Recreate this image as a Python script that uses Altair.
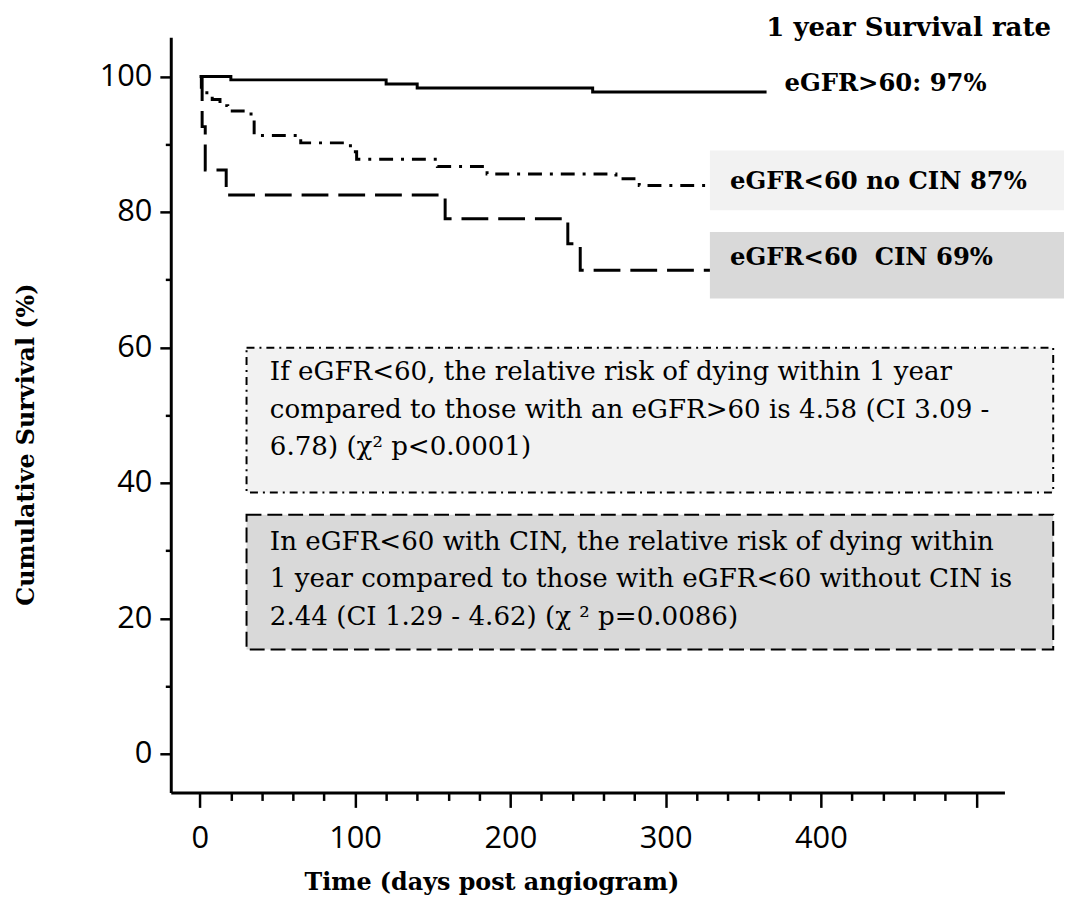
import altair as alt
import pandas as pd

# ---------------- data ----------------
days_gt60 = [0, 20, 120, 140, 253, 365]
surv_gt60 = [100, 99.5, 98.9, 98.3, 97.7, 97.7]

days_nocin = [0, 1, 8, 13, 18, 33, 35, 65, 97, 101, 153, 185, 268, 283, 365]
surv_nocin = [100, 97.6, 96.6, 95.7, 94.9, 93.6, 91.3, 90.2, 88.9, 87.8, 86.7, 85.6, 84.9, 83.9, 83.9]

days_cin = [0, 1.5, 3.5, 17, 158, 237, 245, 365]
surv_cin = [100, 92.6, 86.2, 82.5, 79.0, 75.3, 71.4, 71.4]

x_ticks = list(range(0, 520, 20))
y_ticks = list(range(0, 110, 10))

title_text = "1 year Survival rate"
title_pos = [364.8, 106.05]

label_text = ["eGFR>60: 97%", "eGFR<60 no CIN 87%", "eGFR<60\u00a0 CIN 69%"]
label_x = [376.5, 341.4, 341.4]
label_y = [97.85, 83.35, 72.21]

labbox_group = ["noCIN", "CIN"]
labbox_x1 = [328.5, 328.5]
labbox_x2 = [557.0, 557.0]
labbox_y1 = [89.06, 77.05]
labbox_y2 = [80.27, 67.24]

box1_lines = [
    "If eGFR<60, the relative risk of dying within 1 year",
    "compared to those with an eGFR>60 is 4.58 (CI 3.09 -",
    "6.78) (\u03c7\u00b2 p<0.0001)",
]
box2_lines = [
    "In eGFR<60 with CIN, the relative risk of dying within",
    "1 year compared to those with eGFR<60 without CIN is",
    "2.44 (CI 1.29 - 4.62) (\u03c7 \u00b2 p=0.0086)",
]
box1_rect = [30.1, 549.6, 59.95, 38.57]   # x1, x2, y1, y2 (data units)
box2_rect = [30.1, 549.6, 35.30, 15.42]
box1_text_pos = [45.1, 55.22]
box2_text_pos = [45.1, 30.17]

# ---------------- scales & axes ----------------
X_DOMAIN = [-18.7, 518.2]
Y_DOMAIN = [-5.7, 105.8]
xs = alt.Scale(domain=X_DOMAIN, nice=False, zero=False)
ys = alt.Scale(domain=Y_DOMAIN, nice=False, zero=False)

SERIF = "DejaVu Serif"
SANS = "Open Sans"

x_axis = alt.Axis(
    values=x_ticks,
    labelExpr="(datum.value % 100 === 0 && datum.value < 500) ? datum.label : ''",
    tickSize={"condition": {"test": "datum.value % 100 === 0", "value": 15}, "value": 8},
    tickWidth=2.5, tickColor="black",
    domainWidth=3, domainColor="black",
    labelFont=SANS, labelFontSize=31, labelColor="black",
    labelPadding=16, labelOverlap=False, labelFlush=False, labelBound=False,
    grid=False,
    title="Time (days post angiogram)",
    titleFont=SERIF, titleFontSize=24, titleFontWeight="bold", titleColor="black",
    titleX=323, titleY=98, titleAlign="center", titleBaseline="alphabetic",
)
y_axis = alt.Axis(
    values=y_ticks,
    labelExpr="(datum.value % 20 === 0) ? datum.label : ''",
    tickSize={"condition": {"test": "datum.value % 20 === 0", "value": 11}, "value": 5.5},
    tickWidth=2.5, tickColor="black",
    domainWidth=3, domainColor="black",
    labelFont=SANS, labelFontSize=31, labelColor="black",
    labelPadding=8, labelOverlap=False, labelFlush=False, labelBound=False,
    grid=False,
    title="Cumulative Survival (%)",
    titleFont=SERIF, titleFontSize=24, titleFontWeight="bold", titleColor="black",
    titleAngle=270, titleX=-138.7, titleY=410, titleAlign="center", titleBaseline="alphabetic",
)


def X(field):
    return alt.X(field, scale=xs, axis=x_axis)


def Y(field):
    return alt.Y(field, scale=ys, axis=y_axis)


def curve(days, surv, dash=None):
    df = pd.DataFrame({"day": days, "surv": surv})
    kw = dict(interpolate="step-after", color="black", strokeWidth=3)
    if dash is not None:
        kw["strokeDash"] = dash
    return alt.Chart(df).mark_line(**kw).encode(x=X("day:Q"), y=Y("surv:Q"))


solid = curve(days_gt60, surv_gt60, None)
dashdot = curve(days_nocin, surv_nocin, [14, 8, 3, 8])
dashed = curve(days_cin, surv_cin, [27, 10])

labbox_df = pd.DataFrame({"g": labbox_group, "x1": labbox_x1, "x2": labbox_x2,
                          "y1": labbox_y1, "y2": labbox_y2})
labboxes = alt.Chart(labbox_df).mark_rect(clip=False).encode(
    x=X("x1:Q"), x2="x2:Q",
    y=Y("y1:Q"), y2="y2:Q",
    color=alt.Color("g:N", scale=alt.Scale(domain=["noCIN", "CIN"], range=["#f2f2f2", "#d9d9d9"]), legend=None),
)


def box(rect, fill, dash):
    df = pd.DataFrame({"x1": [rect[0]], "x2": [rect[1]], "y1": [rect[2]], "y2": [rect[3]]})
    return alt.Chart(df).mark_rect(fill=fill, stroke="black", strokeWidth=2, strokeDash=dash).encode(
        x=X("x1:Q"), x2="x2:Q", y=Y("y1:Q"), y2="y2:Q",
    )


box1 = box(box1_rect, "#f2f2f2", [8, 5, 2, 5])
box2 = box(box2_rect, "#d9d9d9", [15, 6])


def para(lines, pos):
    df = pd.DataFrame({"x": [pos[0]], "y": [pos[1]]})
    return alt.Chart(df).mark_text(
        text=lines, align="left", baseline="alphabetic", lineHeight=38,
        font=SERIF, fontSize=26.3, color="black",
    ).encode(x=X("x:Q"), y=Y("y:Q"))


para1 = para(box1_lines, box1_text_pos)
para2 = para(box2_lines, box2_text_pos)

labels_df = pd.DataFrame({"t": label_text, "x": label_x, "y": label_y})
labels = alt.Chart(labels_df).mark_text(
    align="left", baseline="alphabetic", font=SERIF, fontSize=24.5, fontWeight="bold", color="black",
).encode(x=X("x:Q"), y=Y("y:Q"), text="t:N")

title_df = pd.DataFrame({"t": [title_text], "x": [title_pos[0]], "y": [title_pos[1]]})
title = alt.Chart(title_df).mark_text(
    align="left", baseline="alphabetic", font=SERIF, fontSize=26.2, fontWeight="bold", color="black",
).encode(x=X("x:Q"), y=Y("y:Q"), text="t:N")

chart = alt.layer(
    solid, dashdot, dashed, labboxes, box1, box2, para1, para2, labels, title
).properties(
    width=840, height=761,
    padding={"left": 164, "top": 26, "right": 60, "bottom": 119},
    autosize=alt.AutoSizeParams(type="none"),
    background="white",
).configure_view(stroke=None)

chart.save("out.html", embed_options={"renderer": "svg", "actions": False})
